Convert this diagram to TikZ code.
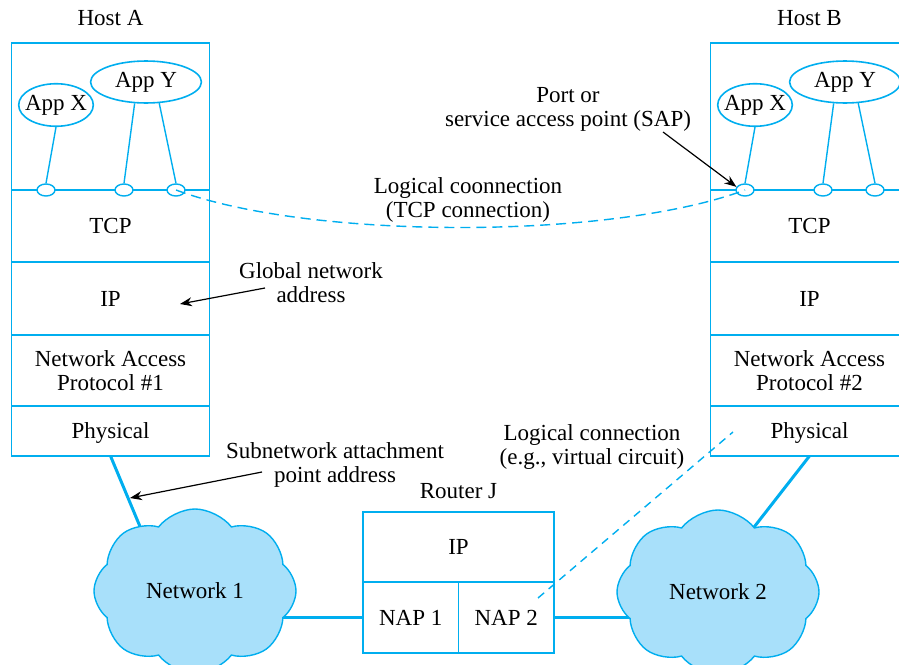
\documentclass[tikz,border=0pt]{standalone}
\usepackage{fontspec}
\setmainfont{Liberation Serif}
\usepackage{xcolor}
\usepackage{tikz}
\usetikzlibrary{arrows.meta,positioning,backgrounds,shapes.geometric,shapes.symbols}

\definecolor{netblue}{RGB}{0,174,239}
\definecolor{cloudblue}{RGB}{168,224,250}

\begin{document}
\begin{tikzpicture}[
  x=0.5pt, y=-0.5pt,
  font=\fontsize{11.5}{12}\selectfont,
  layer/.style={draw=netblue, line width=0.8pt, minimum width=99pt, inner sep=0pt, outer sep=0pt, align=center},
  appx/.style={ellipse, draw=netblue, line width=0.8pt, inner xsep=-2.3pt, inner ysep=2.5pt},
  appy/.style={ellipse, draw=netblue, line width=0.8pt, inner xsep=4.1pt, inner ysep=2.4pt},
  port/.style={ellipse, draw=netblue, fill=white, line width=0.7pt, minimum width=9pt, minimum height=6pt, inner sep=0pt},
  wire/.style={draw=netblue, line width=0.7pt},
  link/.style={draw=netblue, line width=1.5pt},
  net/.style={cloud, cloud puffs=8, cloud puff arc=105, aspect=1.25, draw=netblue, fill=cloudblue, line width=0.7pt, minimum width=101pt, minimum height=82pt},
  lbl/.style={align=center, inner sep=1pt},
  arr/.style={-{Stealth[length=6pt,width=4.5pt]}, line width=0.6pt},
  tcpconn/.style={draw=netblue, line width=0.7pt, dash pattern=on 5pt off 3pt},
  vcconn/.style={draw=netblue, line width=0.7pt, dash pattern=on 4pt off 3pt},
  node distance=0pt
]
\useasboundingbox (0,0) rectangle (899,664);

% ---------- Host A ----------
\node[layer, minimum height=73.5pt, anchor=north west] (appsA) at (11.5,43) {};
\node[layer, minimum height=36pt, below=of appsA] (tcpA) {TCP};
\node[layer, minimum height=36.5pt, below=of tcpA] (ipA) {IP};
\node[layer, minimum height=35.5pt, below=of ipA] (napA) {Network Access\\Protocol \#1};
\node[layer, minimum height=25pt, text depth=0pt, below=of napA] (phyA) {Physical};
\node[above=5pt of appsA] (hostA) {Host A};

\node[appx] (appXA) at (56,105) {App X};
\node[appy] (appYA) at (146,82) {App Y};
\node[port] (portA1) at (46,190) {};
\node[port] (portA2) at (124,190) {};
\node[port] (portA3) at (176,190) {};

% ---------- Host B ----------
\node[layer, minimum height=73.5pt, anchor=north west] (appsB) at (710.5,43) {};
\node[layer, minimum height=36pt, below=of appsB] (tcpB) {TCP};
\node[layer, minimum height=36.5pt, below=of tcpB] (ipB) {IP};
\node[layer, minimum height=35.5pt, below=of ipB] (napB) {Network Access\\Protocol \#2};
\node[layer, minimum height=25pt, text depth=0pt, below=of napB] (phyB) {Physical};
\node[above=5pt of appsB] (hostB) {Host B};

\node[appx] (appXB) at (755,105) {App X};
\node[appy] (appYB) at (845,82) {App Y};
\node[port] (portB1) at (745,190) {};
\node[port] (portB2) at (823,190) {};
\node[port] (portB3) at (875,190) {};

% ---------- Router J ----------
\node[layer, minimum width=95.5pt, minimum height=35pt] (ripJ) at (458.5,547) {IP};
\node[layer, minimum width=47.75pt, minimum height=35.5pt, below=of ripJ.south west, anchor=north west] (nap1) {NAP 1};
\node[layer, minimum width=47.75pt, minimum height=35.5pt, right=of nap1] (nap2) {NAP 2};
\node[above=3pt of ripJ] (routerJ) {Router J};

% ---------- Networks ----------
\node[net] (net1) at (195,591) {Network 1};
\node[net] (net2) at (718,592) {Network 2};

% ---------- Links (behind the clouds) ----------
\coordinate (net1in) at (154,560);
\coordinate (net2in) at (744,540);
\begin{scope}[on background layer]
\draw[link] (phyA.south) -- (net1in);
\draw[link] (phyB.south) -- (net2in);
\draw[link] (nap1.west) -- (net1.center |- nap1.west);
\draw[link] (nap2.east) -- (net2.center |- nap2.east);
\end{scope}

% ---------- App to port wires ----------
\draw[wire] (appXA.south) -- (portA1.north);
\draw[wire] (appYA.-118) -- (portA2.north);
\draw[wire] (appYA.-58) -- (portA3.north);
\draw[wire] (appXB.south) -- (portB1.north);
\draw[wire] (appYB.-118) -- (portB2.north);
\draw[wire] (appYB.-58) -- (portB3.north);

% ---------- Logical connections ----------
\draw[tcpconn] (portA3.center) .. controls (310,240) and (611,240) .. (portB1.center);
\coordinate (vcA) at (538,598);
\coordinate (vcB) at (733,432);
\draw[vcconn] (vcA) -- (vcB);

% ---------- Labels and pointers ----------
\node[lbl] (sapl) at (568,109) {Port or\\service access point (SAP)};
\node[lbl] (tcpl) at (468,200) {Logical coonnection\\(TCP connection)};
\node[lbl] (gnal) at (311,283) {Global network\\address};
\node[lbl] (snal) at (335,465) {Subnetwork attachment\\point address};
\node[lbl] (vcl) at (592,447) {Logical connection\\(e.g., virtual circuit)};

\coordinate (sapTail) at (663,132);
\coordinate (gnaTail) at (265,288);
\coordinate (gnaTip) at (180,304);
\coordinate (snaTail) at (262,472);
\coordinate (snaTip) at (130,498);
\draw[arr] (sapTail) -- (portB1.160);
\draw[arr] (gnaTail) -- (gnaTip);
\draw[arr] (snaTail) -- (snaTip);

\end{tikzpicture}
\end{document}
